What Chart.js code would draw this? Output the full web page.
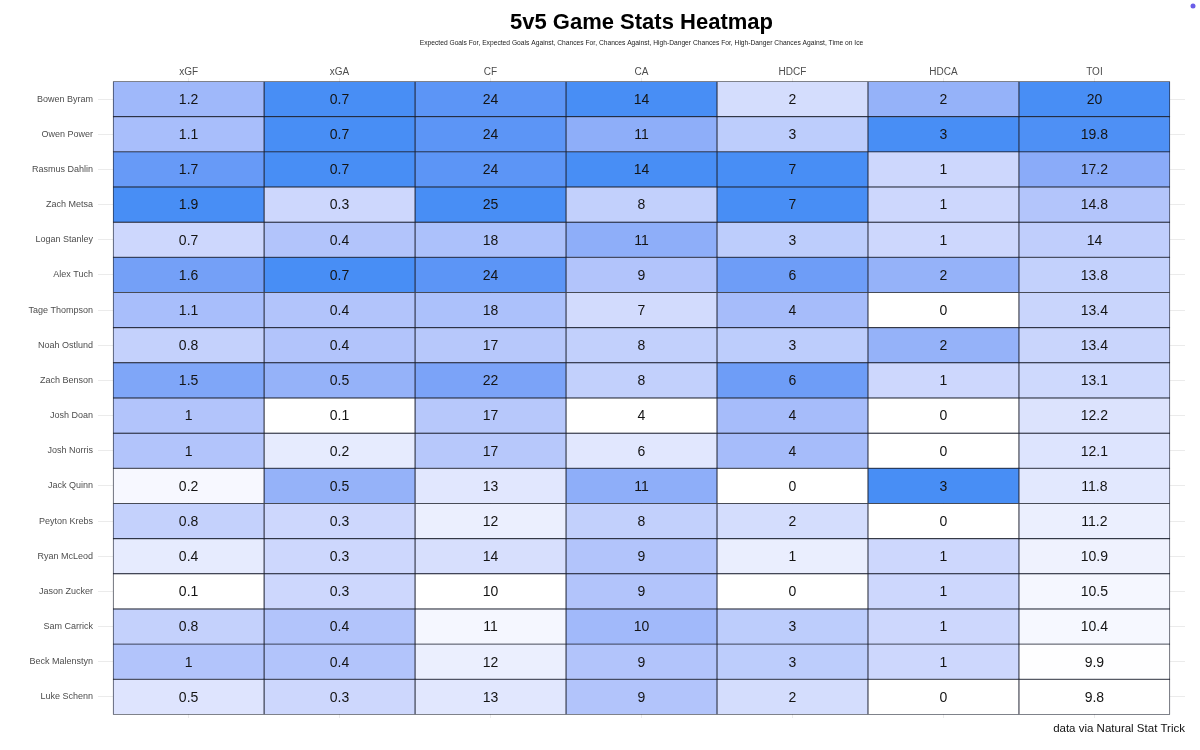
<!DOCTYPE html>
<html>
<head>
<meta charset="utf-8">
<script src="https://cdn.jsdelivr.net/npm/chart.js@4.4.1/dist/chart.umd.min.js"></script>
<style>
  body{margin:0;background:#fff;}
  #wrap{width:1200px;height:750px;}
</style>
</head>
<body>
<div id="wrap"><canvas id="heat" width="1200" height="750"></canvas></div>
<script>
const players = ["Bowen Byram","Owen Power","Rasmus Dahlin","Zach Metsa","Logan Stanley","Alex Tuch","Tage Thompson","Noah Ostlund","Zach Benson","Josh Doan","Josh Norris","Jack Quinn","Peyton Krebs","Ryan McLeod","Jason Zucker","Sam Carrick","Beck Malenstyn","Luke Schenn"];
const statNames = ["xGF","xGA","CF","CA","HDCF","HDCA","TOI"];

const xGF  = [1.2,1.1,1.7,1.9,0.7,1.6,1.1,0.8,1.5,1,1,0.2,0.8,0.4,0.1,0.8,1,0.5];
const xGA  = [0.7,0.7,0.7,0.3,0.4,0.7,0.4,0.4,0.5,0.1,0.2,0.5,0.3,0.3,0.3,0.4,0.4,0.3];
const CF   = [24,24,24,25,18,24,18,17,22,17,17,13,12,14,10,11,12,13];
const CA   = [14,11,14,8,11,9,7,8,8,4,6,11,8,9,9,10,9,9];
const HDCF = [2,3,7,7,3,6,4,3,6,4,4,0,2,1,0,3,3,2];
const HDCA = [2,3,1,1,1,2,0,2,1,0,0,3,0,1,1,1,1,0];
const TOI  = [20,19.8,17.2,14.8,14,13.8,13.4,13.4,13.1,12.2,12.1,11.8,11.2,10.9,10.5,10.4,9.9,9.8];

const columns = [xGF,xGA,CF,CA,HDCF,HDCA,TOI];

const titleText = "5v5 Game Stats Heatmap";
const subtitleText = "Expected Goals For, Expected Goals Against, Chances For, Chances Against, High-Danger Chances For, High-Danger Chances Against, Time on Ice";
const captionText = "data via Natural Stat Trick";

// colour helpers (gradient done in Lab, like ggplot)
function toLin(c){ c/=255; return c<=0.04045 ? c/12.92 : Math.pow((c+0.055)/1.055,2.4); }
function fromLin(c){ c = c<=0.0031308 ? 12.92*c : 1.055*Math.pow(c,1/2.4)-0.055; return Math.max(0,Math.min(255,Math.round(c*255))); }
const Xn=0.95047, Yn=1, Zn=1.08883;
function fLab(t){ return t>0.008856 ? Math.cbrt(t) : 7.787*t+16/116; }
function fInv(t){ return t>0.206893 ? t*t*t : (t-16/116)/7.787; }
function rgb2lab(rgb){
    let r=toLin(rgb[0]), g=toLin(rgb[1]), b=toLin(rgb[2]);
    let X=(0.4124*r+0.3576*g+0.1805*b)/Xn, Y=(0.2126*r+0.7152*g+0.0722*b)/Yn, Z=(0.0193*r+0.1192*g+0.9505*b)/Zn;
    let fx=fLab(X), fy=fLab(Y), fz=fLab(Z);
    return [116*fy-16, 500*(fx-fy), 200*(fy-fz)];
}
function lab2rgb(lab){
    let fy=(lab[0]+16)/116, fx=fy+lab[1]/500, fz=fy-lab[2]/200;
    let X=fInv(fx)*Xn, Y=fInv(fy)*Yn, Z=fInv(fz)*Zn;
    let r= 3.2406*X-1.5372*Y-0.4986*Z;
    let g=-0.9689*X+1.8758*Y+0.0415*Z;
    let b= 0.0557*X-0.2040*Y+1.0570*Z;
    return [fromLin(r),fromLin(g),fromLin(b)];
}
const loLab = rgb2lab([255,255,255]);
const hiLab = rgb2lab([72,142,245]);

function cellColor(v, arr){
    let mn = Math.min(...arr), mx = Math.max(...arr);
    let t = mx==mn ? 0 : (v-mn)/(mx-mn);
    let lab = [0,1,2].map(k=>loLab[k]+(hiLab[k]-loLab[k])*t);
    let c = lab2rgb(lab);
    return "rgb("+c[0]+","+c[1]+","+c[2]+")";
}

let dataSets = [];
for(let c=0;c<columns.length;c++){
    let arr = columns[c];
    dataSets.push({
        label: statNames[c],
        data: arr.map((v,r)=>({y: r+0.5, x:[c, c+1], v: v})),
        backgroundColor: arr.map(v=>cellColor(v,arr)),
        borderColor: "#1e2230",
        borderWidth: 0.8,
        borderSkipped: false,
        grouped: false,
        barPercentage: 1,
        categoryPercentage: 1
    });
}

// numbers inside cells
const cellText = {
    id: "cellText",
    afterDatasetsDraw(chart){
        const ctx = chart.ctx;
        ctx.save();
        ctx.font = "14px 'Liberation Sans', Arial, sans-serif";
        ctx.fillStyle = "#141414";
        ctx.textAlign = "center";
        ctx.textBaseline = "middle";
        chart.data.datasets.forEach((ds,i)=>{
            chart.getDatasetMeta(i).data.forEach((el,j)=>{
                const p = el.getCenterPoint();
                ctx.fillText(String(ds.data[j].v), p.x, p.y+1);
            });
        });
        ctx.restore();
    }
};

// title, subtitle, caption
const texts = {
    id: "texts",
    afterDraw(chart){
        const ctx = chart.ctx;
        const a = chart.chartArea;
        const cx = (chart.scales.x.getPixelForValue(0)+chart.scales.x.getPixelForValue(7))/2;
        ctx.save();
        ctx.textAlign = "center";
        ctx.textBaseline = "middle";
        ctx.fillStyle = "#000";
        ctx.font = "bold 22px 'Liberation Sans', Arial, sans-serif";
        ctx.fillText(titleText, cx, 23);
        ctx.font = "6.7px 'Liberation Sans', Arial, sans-serif";
        ctx.fillStyle = "#222";
        ctx.fillText(subtitleText, cx, 43);
        ctx.textAlign = "right";
        ctx.fillStyle = "#111";
        ctx.font = "11.5px 'Liberation Sans', Arial, sans-serif";
        ctx.fillText(captionText, a.right, 729);
        // small dot top right
        ctx.fillStyle = "#6a5de8";
        ctx.beginPath();
        ctx.arc(1193,6,2.5,0,Math.PI*2);
        ctx.fill();
        ctx.restore();
    }
};

new Chart(document.getElementById("heat"), {
    type: "bar",
    data: { datasets: dataSets },
    options: {
        indexAxis: "y",
        responsive: false,
        animation: false,
        devicePixelRatio: 1,
        layout: { padding: { top: 60, right: 15, bottom: 32, left: 0 } },
        plugins: {
            legend: { display: false },
            tooltip: { enabled: false },
            title: { display: false }
        },
        scales: {
            x: {
                type: "linear",
                position: "top",
                offset: false,
                min: -0.1,
                max: 7.1,
                afterBuildTicks: s => { s.ticks = statNames.map((n,i)=>({value: i+0.5})); },
                afterFit: s => { s.height = 18; },
                ticks: {
                    autoSkip: false,
                    padding: 0,
                    color: "#4d4d4d",
                    font: { size: 10, family: "'Liberation Sans', Arial, sans-serif" },
                    callback: v => statNames[Math.floor(v)]
                },
                grid: { color: "#ebebeb", drawTicks: false, offset: false },
                border: { display: false }
            },
            y: {
                type: "linear",
                reverse: true,
                offset: false,
                min: -0.1,
                max: 18.1,
                afterBuildTicks: s => { s.ticks = players.map((n,i)=>({value: i+0.5})); },
                afterFit: s => { s.width = 98; },
                ticks: {
                    autoSkip: false,
                    padding: 5,
                    color: "#4d4d4d",
                    font: { size: 9, family: "'Liberation Sans', Arial, sans-serif" },
                    callback: v => players[Math.floor(v)]
                },
                grid: { color: "#ebebeb", drawTicks: false, offset: false },
                border: { display: false }
            }
        }
    },
    plugins: [cellText, texts]
});
</script>
</body>
</html>
